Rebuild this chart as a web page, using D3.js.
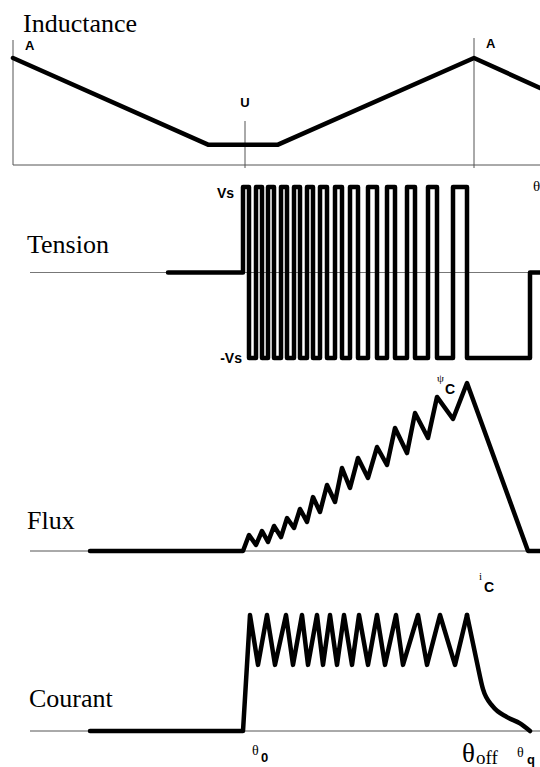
<!DOCTYPE html>
<html><head><meta charset="utf-8">
<script src="https://cdn.jsdelivr.net/npm/d3@7"></script>
<style>
html,body{margin:0;padding:0;background:#fff;}
svg{display:block;}
.lbl{font-family:"Liberation Serif","Times New Roman",serif;font-size:26px;fill:#000;}
.sb{font-family:"Liberation Sans",Arial,sans-serif;font-weight:bold;font-size:13px;fill:#000;}
.sr{font-family:"Liberation Serif","Times New Roman",serif;fill:#000;}
</style></head><body>
<script>
// ---- data (angle positions on a common axis, arbitrary units) ----
const panelLabels = ["Inductance", "Tension", "Flux", "Courant"];
// inductance profile: aligned (A) -> unaligned (U) -> aligned (A)
const inductanceAngle = [0, 195, 265, 461, 527];
const inductanceValue = [1.0, 0.19, 0.19, 1.0, 0.72];
// chopping: rising edges (+Vs) and falling edges (-Vs)
const switchOn  = [230, 243, 255, 268, 281, 294, 307, 322, 337, 355, 374, 394, 415, 440];
const switchOff = [236, 249, 261, 274, 287, 300, 314, 329, 345, 364, 382, 402, 424, 454];
const thetaStart = 77, thetaOff = 454, thetaQ = 517, thetaEnd = 527;
// flux at each switch-off (peaks) and each following switch-on (troughs), per unit of psi_C
const fluxPeak   = [0.095, 0.119, 0.149, 0.196, 0.25, 0.321, 0.393, 0.494, 0.554, 0.619, 0.732, 0.821, 0.917, 1.0];
const fluxTrough = [0.036, 0.054, 0.083, 0.137, 0.173, 0.232, 0.292, 0.375, 0.435, 0.512, 0.583, 0.673, 0.786];
// current hysteresis band (per unit of i_C): peak and trough angles, then de-fluxing tail
const currentHigh = 1.0, currentLow = 0.57;
const currentPeakAngle   = [237, 254, 273, 289, 304, 317, 331, 346, 364, 383, 405, 427, 454];
const currentTroughAngle = [245, 262, 280, 295, 310, 324, 339, 355, 372, 390, 414, 442];
const tailAngle = [454, 464, 470, 480, 494, 507, 517];
const tailValue = [1.0, 0.59, 0.36, 0.21, 0.12, 0.065, 0.0];

// ---- layout ----
const W = 540, H = 767;
const svg = d3.select("body").append("svg").attr("width", W).attr("height", H);
const x = d3.scaleLinear().domain([0, 527]).range([13, 540]);
const yL = d3.scaleLinear().domain([0, 1]).range([165, 58]);
const yV = d3.scaleLinear().domain([-1, 1]).range([358, 187]);
const yF = d3.scaleLinear().domain([0, 1]).range([551, 383]);
const yI = d3.scaleLinear().domain([0, 1]).range([731, 615]);
const thin = "#555";

function thick(pts, y, curve) {
  svg.append("path").attr("d", d3.line().x(d => x(d[0])).y(d => y(d[1])).curve(curve || d3.curveLinear)(pts))
    .attr("fill", "none").attr("stroke", "#000").attr("stroke-width", 4.5)
    .attr("stroke-linejoin", "round").attr("stroke-linecap", "round");
}
function rule(x1, y1, x2, y2, c, w) {
  svg.append("line").attr("x1", x1).attr("y1", y1).attr("x2", x2).attr("y2", y2)
    .attr("stroke", c || thin).attr("stroke-width", w || 1);
}

// ---- Inductance ----
svg.append("text").attr("class", "lbl").attr("x", 23).attr("y", 32).text(panelLabels[0]);
rule(x(0), 40, x(0), yL(0));
rule(x(0), yL(0), W, yL(0));
rule(x(232), 121, x(232), 168);
rule(x(461), 38, x(461), 168);
thick(inductanceAngle.map((a, i) => [a, inductanceValue[i]]), yL);
svg.append("text").attr("class", "sb").attr("x", 25).attr("y", 50).text("A");
svg.append("text").attr("class", "sb").attr("x", x(232)).attr("y", 107).attr("text-anchor", "middle").text("U");
svg.append("text").attr("class", "sb").attr("x", 486).attr("y", 48).text("A");
svg.append("text").attr("class", "sr").attr("x", 533).attr("y", 191).style("font-size", "15px").text("θ");

// ---- Tension ----
svg.append("text").attr("class", "lbl").attr("x", 27).attr("y", 253).text(panelLabels[1]);
rule(x(17), yV(0), W, yV(0), "#777", 1);
const vPts = [[155, 0], [switchOn[0], 0]];
switchOn.forEach((on, i) => {
  vPts.push([on, 1], [switchOff[i], 1], [switchOff[i], -1]);
  if (i + 1 < switchOn.length) vPts.push([switchOn[i + 1], -1]);
});
vPts.push([thetaEnd - 10, -1], [thetaEnd - 10, 0], [thetaEnd, 0]);
thick(vPts, yV);
svg.append("text").attr("class", "sb").attr("x", 234).attr("y", 198).attr("text-anchor", "end").style("font-size", "14px").text("Vs");
svg.append("text").attr("class", "sb").attr("x", 242).attr("y", 363).attr("text-anchor", "end").style("font-size", "14px").text("-Vs");

// ---- Flux ----
svg.append("text").attr("class", "lbl").attr("x", 27).attr("y", 529).text(panelLabels[2]);
rule(x(17), yF(0), W, yF(0));
const fPts = [[thetaStart, 0], [switchOn[0], 0]];
fluxPeak.forEach((v, i) => {
  fPts.push([switchOff[i], v]);
  if (i < fluxTrough.length) fPts.push([switchOn[i + 1], fluxTrough[i]]);
});
fPts.push([thetaEnd - 12, 0], [thetaEnd, 0]);
thick(fPts, yF);
svg.append("text").attr("class", "sr").attr("x", 437).attr("y", 382).style("font-size", "11px").text("ψ");
svg.append("text").attr("class", "sb").attr("x", 445).attr("y", 394).style("font-size", "14px").text("C");

// ---- Courant ----
svg.append("text").attr("class", "lbl").attr("x", 29).attr("y", 707).text(panelLabels[3]);
rule(x(17), yI(0), W, yI(0));
const iPts = [[thetaStart, 0], [switchOn[0], 0]];
currentPeakAngle.forEach((a, i) => {
  iPts.push([a, currentHigh]);
  if (i < currentTroughAngle.length) iPts.push([currentTroughAngle[i], currentLow]);
});
thick(iPts, yI);
thick(tailAngle.map((a, i) => [a, tailValue[i]]), yI, d3.curveMonotoneX);
svg.append("text").attr("class", "sr").attr("x", 479).attr("y", 580).style("font-size", "11px").text("i");
svg.append("text").attr("class", "sb").attr("x", 484).attr("y", 592).style("font-size", "14px").text("C");

// angle labels
svg.append("text").attr("class", "sr").attr("x", x(switchOn[0]) + 9).attr("y", 755).style("font-size", "14px").text("θ");
svg.append("text").attr("class", "sb").attr("x", x(switchOn[0]) + 18).attr("y", 762).text("0");
svg.append("text").attr("class", "sr").attr("x", x(thetaOff) - 5).attr("y", 762).style("font-size", "27px").text("θ");
svg.append("text").attr("class", "sr").attr("x", x(thetaOff) + 9).attr("y", 764).style("font-size", "19px").text("off");
svg.append("text").attr("class", "sr").attr("x", x(thetaQ) - 13).attr("y", 757).style("font-size", "14px").text("θ");
svg.append("text").attr("class", "sb").attr("x", x(thetaQ) - 3).attr("y", 764).text("q");
</script>
</body></html>
